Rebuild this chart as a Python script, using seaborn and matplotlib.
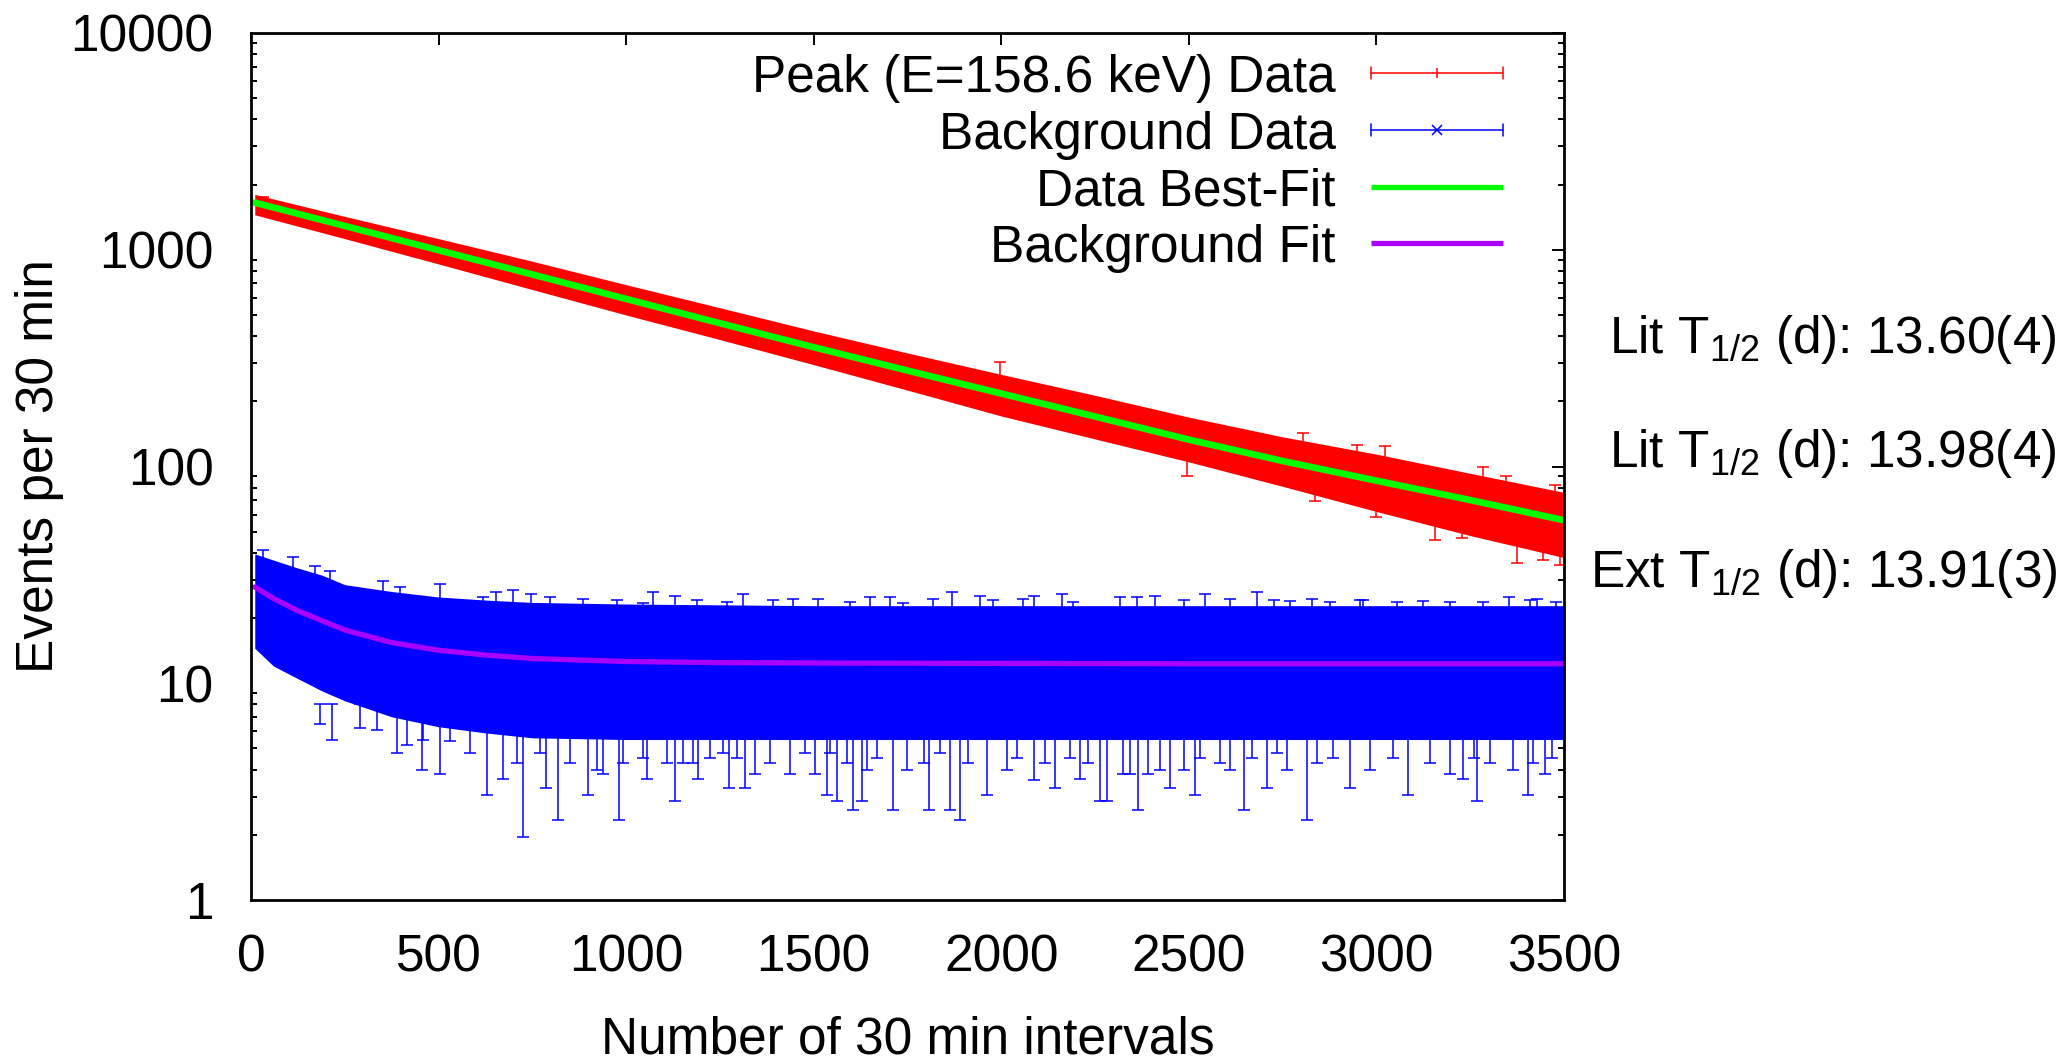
import numpy as np
import pandas as pd
import matplotlib
matplotlib.use("Agg")
import matplotlib.pyplot as plt
from matplotlib.lines import Line2D
import seaborn as sns

# ---------------- data ----------------
# Peak (E=158.6 keV): best-fit line and the extent of the dense band of error bars
peak_x = [10, 250, 500, 750, 1000, 1250, 1500, 1750, 2000, 2250, 2500, 2750, 3000, 3250, 3500]
peak_fit = [1650, 1288, 995, 769, 593, 458, 355, 277, 217, 170, 133, 106, 86, 70, 56.5]
peak_hi = [1800, 1425, 1125, 885, 690, 540, 422, 334, 266, 213, 169, 137, 114, 93, 76]
peak_lo = [1450, 1125, 860, 655, 500, 385, 295, 225, 171, 134, 105, 81, 62, 48, 38]

# isolated peak error bars sticking out of the band
peak_out_x = [33, 202, 379, 637, 744, 930, 1144, 1997, 2494, 2805, 2836, 2947, 3000, 3022, 3156,
              3227, 3284, 3346, 3374, 3445, 3475, 3489]
peak_out_lo = [1450, 1259, 1029, 759, 689, 572, 446, 230, 90, 120, 69, 100, 58.7, 100, 46,
               47, 80, 72, 35.8, 37, 65, 35]
peak_out_hi = [1760, 1420, 1150, 860, 790, 650, 510, 305, 125, 143, 95, 126, 80, 124, 65,
               65, 100, 90, 50, 52, 82, 50]

# Background: fit line and the dense band of error bars
bg_x = [10, 60, 125, 190, 250, 375, 500, 625, 750, 1000, 1250, 1500, 2000, 2500, 3000, 3500]
bg_fit = [27.8, 24.6, 21.6, 19.4, 17.6, 15.4, 14.2, 13.5, 13.0, 12.6, 12.45, 12.4, 12.35, 12.3, 12.3, 12.3]
bg_hi = [39.5, 37, 34, 31.5, 28.5, 26.5, 25.0, 24.2, 23.6, 23.2, 23.0, 22.8, 22.8, 22.8, 22.8, 22.8]
bg_lo = [14.5, 12.0, 10.5, 9.2, 8.3, 7.0, 6.3, 5.9, 5.6, 5.5, 5.5, 5.5, 5.5, 5.5, 5.5, 5.5]

# background error bars reaching below the band (x, lower cap)
bg_down_x = [184, 215, 388, 455, 504, 628, 673, 726, 786, 819, 899, 939, 982, 1055, 1130,
             291, 335, 415, 459, 531, 584, 708, 770, 850, 921, 992, 1046, 1108, 1152,
             1192, 1273, 1317, 1536, 1561, 1606, 1628, 1711, 1806, 1864, 1890, 1961, 2143, 2210, 2263, 2281,
             1179, 1224, 1259, 1295, 1344, 1384, 1437, 1477, 1503, 1543, 1588, 1641, 1668, 1748, 1793,
             1837, 1912, 2015, 2041, 2086, 2117, 2183, 2232, 2325,
             2365, 2450, 2517, 2647, 2707, 2814, 2930, 3083, 3232, 3269, 3405, 3449,
             2343, 2392, 2423, 2486, 2530, 2583, 2610, 2668, 2734, 2761, 2841, 2885, 2983, 3045,
             3143, 3196, 3259, 3303, 3365, 3418, 3467]
bg_down_lo = [6.5, 5.5, 4.75, 4.0, 3.8, 3.05, 3.6, 1.96, 3.3, 2.35, 3.05, 3.8, 2.35, 3.6, 2.85,
              6.2, 6.1, 5.2, 5.5, 5.4, 4.75, 4.28, 4.75, 4.28, 4.0, 4.28, 4.5, 4.28, 4.28,
              3.6, 3.3, 3.3, 3.05, 2.85, 2.6, 2.85, 2.6, 2.6, 2.6, 2.35, 3.05, 3.3, 3.6, 2.85, 2.85,
              4.28, 4.5, 4.75, 4.5, 3.8, 4.28, 3.8, 4.75, 3.8, 4.75, 4.28, 4.0, 4.5, 4.0, 4.28,
              4.75, 4.28, 4.0, 4.5, 3.56, 4.28, 4.5, 4.28, 3.8,
              2.6, 3.3, 3.05, 2.6, 3.3, 2.35, 3.3, 3.05, 3.6, 2.85, 3.05, 3.8,
              3.8, 3.8, 4.0, 4.0, 4.5, 4.28, 4.0, 4.5, 4.75, 4.0, 4.28, 4.5, 4.0, 4.5,
              4.28, 3.8, 4.5, 4.28, 4.0, 4.28, 4.5]
BG_DOWN_TOP = 8.0   # where those bars disappear into the band

# background error bars reaching above the band (x, upper cap)
bg_up_x = [33, 113, 171, 211, 353, 504, 653, 698, 746, 1072, 1130, 1312, 1650, 1704, 1868, 1944,
           2087, 2162, 2410, 2543, 2681, 2828, 2957, 3353, 3428,
           1188, 1268, 1392, 1446, 1512, 1597, 1739, 1819, 1979, 2059, 2192, 2316,
           2361, 2486, 2610, 2726, 2770, 2876, 2965, 3054, 3125, 3196, 3285, 3409, 3480,
           397, 619, 797, 886, 975, 1046]
bg_up_hi = [41.3, 38.2, 34.8, 33.0, 29.7, 28.6, 26.4, 26.8, 25.9, 26.4, 25.4, 25.9, 24.9, 24.9, 26.4, 25.4,
            25.4, 25.9, 25.2, 25.9, 26.4, 24.5, 24.3, 24.9, 24.6,
            24.3, 23.8, 24.3, 24.6, 24.6, 23.6, 23.4, 24.6, 24.3, 24.6, 23.8, 24.9,
            24.9, 24.3, 24.6, 24.3, 24.0, 23.8, 24.3, 23.8, 24.0, 23.6, 23.8, 24.3, 23.6,
            27.7, 24.9, 24.9, 24.6, 24.3, 23.4]
BG_UP_BOTTOM = 16.0

y_ticks = [1, 10, 100, 1000, 10000]
y_tick_labels = ["1", "10", "100", "1000", "10000"]
x_ticks = [0, 500, 1000, 1500, 2000, 2500, 3000, 3500]
x_tick_labels = ["0", "500", "1000", "1500", "2000", "2500", "3000", "3500"]

legend_labels = ["Peak (E=158.6 keV) Data", "Background Data", "Data Best-Fit", "Background Fit"]
side_texts = [r"Lit T$_{\mathrm{1/2}}$ (d): 13.60(4)",
              r"Lit T$_{\mathrm{1/2}}$ (d): 13.98(4)",
              r"Ext T$_{\mathrm{1/2}}$ (d): 13.91(3)"]

RED, BLUE, GREEN, PURPLE = "#FF0000", "#0000FF", "#00FF00", "#AA00FF"

# ---------------- figure ----------------
sns.set_theme(style="white")
plt.rcParams["font.family"] = ["Liberation Sans", "DejaVu Sans"]
plt.rcParams["mathtext.fontset"] = "custom"
plt.rcParams["mathtext.rm"] = "Liberation Sans"
plt.rcParams["mathtext.it"] = "Liberation Sans:italic"
plt.rcParams["mathtext.bf"] = "Liberation Sans:bold"

W, H = 2067, 1064
FS = 37
fig = plt.figure(figsize=(W / 100, H / 100), dpi=100)
fig.patch.set_facecolor("white")
L, R, T, B = 251, 1564, 33, 900
ax = fig.add_axes([L / W, 1 - B / H, (R - L) / W, (B - T) / H])
ax.set_facecolor("white")

def fx(px):
    return px / W

def fy(py):
    return 1 - py / H

EW = 1.1
CAP = 4.5

# peak data band + stray bars
ax.fill_between(peak_x, peak_lo, peak_hi, color=RED, lw=0, zorder=2)
plo = np.array(peak_out_lo); phi = np.array(peak_out_hi)
ax.errorbar(peak_out_x, plo, yerr=[np.zeros_like(plo), phi - plo], fmt="none",
            ecolor=RED, elinewidth=EW, capsize=CAP, capthick=EW, zorder=2)

# background data band + stray bars
ax.fill_between(bg_x, bg_lo, bg_hi, color=BLUE, lw=0, zorder=2)
dlo = np.array(bg_down_lo)
ax.errorbar(bg_down_x, dlo, yerr=[np.zeros_like(dlo), BG_DOWN_TOP - dlo], fmt="none",
            ecolor=BLUE, elinewidth=EW, capsize=CAP, capthick=EW, zorder=2)
uhi = np.array(bg_up_hi)
ax.errorbar(bg_up_x, np.full_like(uhi, BG_UP_BOTTOM), yerr=[np.zeros_like(uhi), uhi - BG_UP_BOTTOM],
            fmt="none", ecolor=BLUE, elinewidth=EW, capsize=CAP, capthick=EW, zorder=2)

# fits
fit_df = pd.DataFrame({"x": peak_x, "y": peak_fit})
bgf_df = pd.DataFrame({"x": bg_x, "y": bg_fit})
sns.lineplot(data=fit_df, x="x", y="y", color=GREEN, lw=4.8, ax=ax, zorder=5, legend=False)
sns.lineplot(data=bgf_df, x="x", y="y", color=PURPLE, lw=3.8, ax=ax, zorder=5, legend=False)

ax.set_yscale("log")
ax.set_xlim(0, 3500)
ax.set_ylim(1, 10000)
ax.set_xticks(x_ticks)
ax.set_xticklabels(x_tick_labels)
ax.set_yticks(y_ticks)
ax.set_yticklabels(y_tick_labels)
ax.yaxis.set_minor_locator(matplotlib.ticker.LogLocator(base=10, subs=np.arange(2, 10)))
ax.yaxis.set_minor_formatter(matplotlib.ticker.NullFormatter())
ax.set_xlabel("")
ax.set_ylabel("")
ax.tick_params(axis="both", which="major", direction="in", length=8.6, width=1.4,
               top=True, right=True, labelsize=FS, color="black", labelcolor="black")
ax.tick_params(axis="x", which="major", pad=24)
ax.tick_params(axis="y", which="major", pad=27)
ax.tick_params(axis="y", which="minor", direction="in", length=4.3, width=1.4,
               left=True, right=True, color="black")
ax.tick_params(axis="x", which="minor", bottom=False, top=False)
for s in ax.spines.values():
    s.set_visible(True)
    s.set_color("black")
    s.set_linewidth(2.0)
    s.set_zorder(10)

# axis titles
fig.text(fx((L + R) / 2), fy(1054), "Number of 30 min intervals", ha="center", va="baseline",
         fontsize=FS, color="black")
fig.text(fx(40), fy((T + B) / 2), "Events per 30 min", rotation=90, ha="center", va="center",
         fontsize=FS, color="black")

# legend (gnuplot style: text right-aligned, sample on the right)
rows = [73, 130, 187, 243]
tx_right = 1336
s0, s1 = 1371, 1503
for lab, r in zip(legend_labels, rows):
    fig.text(fx(tx_right), fy(r), lab, ha="right", va="center_baseline", fontsize=FS, color="black")
capw = 6
for r, c, mk in [(rows[0], RED, "|"), (rows[1], BLUE, "x")]:
    fig.add_artist(Line2D([fx(s0), fx(s1)], [fy(r), fy(r)], color=c, lw=1.1))
    for sx in (s0, s1):
        fig.add_artist(Line2D([fx(sx), fx(sx)], [fy(r - capw), fy(r + capw)], color=c, lw=1.1))
    fig.add_artist(Line2D([fx((s0 + s1) / 2)], [fy(r)], color=c, marker=mk, markersize=7,
                          markeredgewidth=1.1, linestyle="none"))
fig.add_artist(Line2D([fx(s0), fx(s1)], [fy(rows[2]), fy(rows[2])], color=GREEN, lw=3.8,
                      solid_capstyle="butt"))
fig.add_artist(Line2D([fx(s0), fx(s1)], [fy(rows[3]), fy(rows[3])], color=PURPLE, lw=3.8,
                      solid_capstyle="butt"))

# half-life annotations on the right
for txt, base in zip(side_texts, [353, 467, 587]):
    fig.text(fx(2057), fy(base), txt, ha="right", va="baseline", fontsize=FS, color="black")

fig.savefig("out.png", dpi=100, facecolor="white")
